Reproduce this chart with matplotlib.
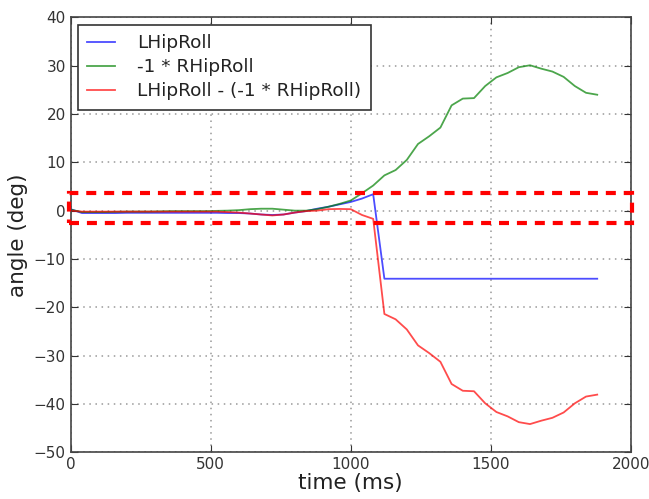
import matplotlib
matplotlib.use("Agg")
import matplotlib.pyplot as plt
from matplotlib.patches import Rectangle
import numpy as np

# hip roll angles, sampled every 40 ms
t = np.arange(0, 1881, 40)

lhip = [0.3, -0.5, -0.5, -0.5, -0.5, -0.45, -0.45, -0.45, -0.45, -0.45,
        -0.45, -0.45, -0.45, -0.45, -0.5, -0.5, -0.6, -0.8, -0.9, -0.8,
        -0.4, -0.1, 0.4, 0.8, 1.3, 1.8, 2.5, 3.4, -14.1, -14.1,
        -14.1, -14.1, -14.1, -14.1, -14.1, -14.1, -14.1, -14.1, -14.1, -14.1,
        -14.1, -14.1, -14.1, -14.1, -14.1, -14.1, -14.1, -14.1]

neg_rhip = [0.2, -0.3, -0.3, -0.3, -0.25, -0.2, -0.2, -0.2, -0.15, -0.1,
            -0.1, -0.1, -0.1, -0.05, 0.0, 0.1, 0.3, 0.4, 0.4, 0.2,
            0.0, 0.0, 0.3, 0.8, 1.4, 2.1, 3.6, 5.2, 7.3, 8.4,
            10.5, 13.8, 15.4, 17.2, 21.8, 23.2, 23.3, 25.8, 27.6, 28.5,
            29.7, 30.1, 29.4, 28.8, 27.7, 25.8, 24.4, 24.0]

diff = [0.0, -0.2, -0.2, -0.2, -0.2, -0.2, -0.2, -0.2, -0.2, -0.2,
        -0.2, -0.2, -0.2, -0.2, -0.3, -0.4, -0.6, -0.8, -1.0, -0.8,
        -0.4, -0.1, 0.0, 0.3, 0.35, 0.3, -0.9, -1.7, -21.4, -22.5,
        -24.6, -27.9, -29.5, -31.3, -35.9, -37.3, -37.4, -39.9, -41.7, -42.6,
        -43.8, -44.2, -43.5, -42.9, -41.8, -39.9, -38.5, -38.1]

band_lo, band_hi = -2.6, 3.6

fig = plt.figure(figsize=(6.49, 4.99), dpi=100)
ax = fig.add_axes([0.109, 0.094, 0.863, 0.871])

ax.plot(t, lhip, color="#0000ff", alpha=0.7, lw=1.3, label="LHipRoll")
ax.plot(t, neg_rhip, color="#008000", alpha=0.7, lw=1.3, label="-1 * RHipRoll")
ax.plot(t, diff, color="#ff0000", alpha=0.7, lw=1.3, label="LHipRoll - (-1 * RHipRoll)")

# tolerance band
ax.add_patch(Rectangle((-5, band_lo), 2010, band_hi - band_lo, fill=False,
                       edgecolor="red", lw=3, linestyle=(0, (2.4, 1.9)),
                       clip_on=False, zorder=5))

ax.set_xlim(0, 2000)
ax.set_ylim(-50, 40)
ax.set_xticks([0, 500, 1000, 1500, 2000])
ax.set_yticks(range(-50, 41, 10))
ax.grid(True, linestyle=(0, (1, 3)), color="#999999", lw=1.1)
ax.tick_params(direction="in", top=True, right=True, labelsize=11,
               colors="#333333", length=5)
for s in ax.spines.values():
    s.set_color("#444444")
    s.set_linewidth(1.2)

ax.set_xlabel("time (ms)", fontsize=15.5, color="#222222", labelpad=1)
ax.set_ylabel("angle (deg)", fontsize=15.5, color="#222222", labelpad=4)

leg = ax.legend(loc="upper left", fontsize=13.3, fancybox=False,
                handlelength=1.5, handletextpad=1.2, borderpad=0.5,
                labelspacing=0.33, framealpha=1, borderaxespad=0.4)
leg.get_frame().set_edgecolor("#333333")
leg.get_frame().set_linewidth(1.2)
for txt in leg.get_texts():
    txt.set_color("#222222")

fig.savefig("out.png", dpi=100)
